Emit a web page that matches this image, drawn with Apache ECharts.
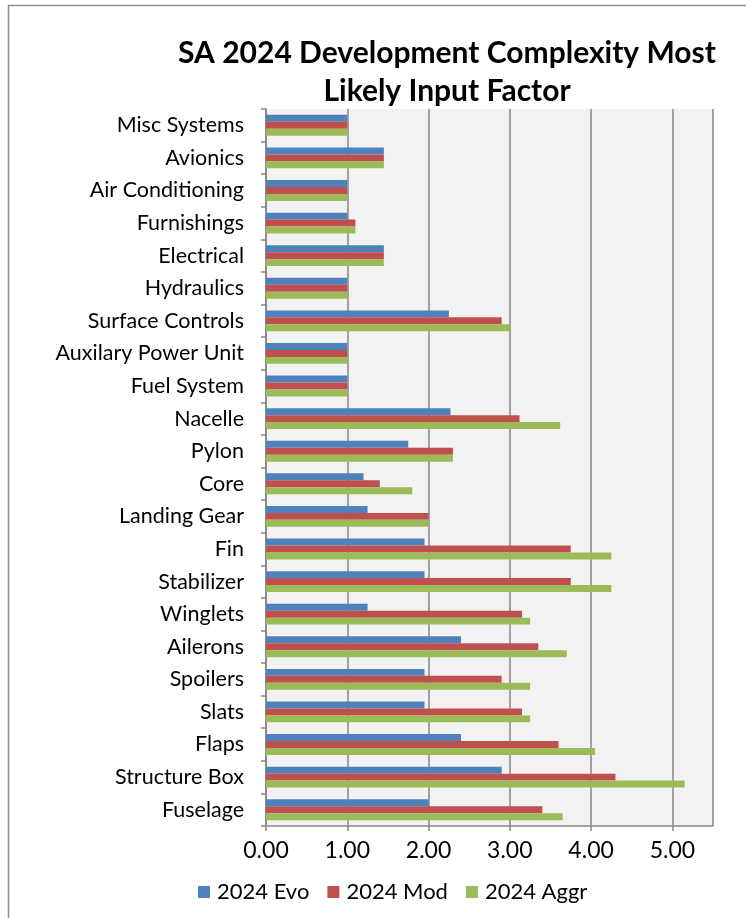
<!DOCTYPE html>
<html>
<head>
<meta charset="utf-8">
<script src="https://cdn.jsdelivr.net/npm/echarts@6/dist/echarts.min.js"></script>
<style>
  html, body { margin: 0; padding: 0; background: #fff; }
  #main { width: 746px; height: 918px; }
</style>
</head>
<body>
<div id="main"></div>
<script>
// categories top to bottom, as in the picture
var categories = ['Misc Systems', 'Avionics', 'Air Conditioning', 'Furnishings', 'Electrical',
  'Hydraulics', 'Surface Controls', 'Auxilary Power Unit', 'Fuel System', 'Nacelle', 'Pylon',
  'Core', 'Landing Gear', 'Fin', 'Stabilizer', 'Winglets', 'Ailerons', 'Spoilers', 'Slats',
  'Flaps', 'Structure Box', 'Fuselage'];

var evo  = [1.00, 1.45, 1.00, 1.00, 1.45, 1.00, 2.25, 1.00, 1.00, 2.27, 1.75,
            1.20, 1.25, 1.95, 1.95, 1.25, 2.40, 1.95, 1.95, 2.40, 2.90, 2.00];
var mod  = [1.00, 1.45, 1.00, 1.10, 1.45, 1.00, 2.90, 1.00, 1.00, 3.12, 2.30,
            1.40, 2.00, 3.75, 3.75, 3.15, 3.35, 2.90, 3.15, 3.60, 4.30, 3.40];
var aggr = [1.00, 1.45, 1.00, 1.10, 1.45, 1.00, 3.00, 1.00, 1.00, 3.62, 2.30,
            1.80, 2.00, 4.25, 4.25, 3.25, 3.70, 3.25, 3.25, 4.05, 5.15, 3.65];

var seriesNames = ['2024 Evo', '2024 Mod', '2024 Aggr'];
var colors = ['#4f81bd', '#c0504d', '#9bbb59'];
var FONT = 'Lato';

var myChart = echarts.init(document.getElementById('main'));

var series = [evo, mod, aggr].map(function (d, i) {
  return {
    name: seriesNames[i],
    type: 'bar',
    data: d,
    barGap: '0%',
    barCategoryGap: '36%',
    itemStyle: { color: colors[i] }
  };
});

myChart.setOption({
  animation: false,
  color: colors,
  title: {
    text: 'SA 2024 Development Complexity Most\nLikely Input Factor',
    left: 442,
    top: 29,
    textAlign: 'center',
    textStyle: {
      fontFamily: FONT,
      fontWeight: 'bold',
      fontSize: 30,
      lineHeight: 38,
      color: '#000'
    }
  },
  legend: {
    data: seriesNames,
    left: 193,
    top: 876,
    itemWidth: 12,
    itemHeight: 12,
    itemGap: 18,
    icon: 'rect',
    textStyle: { fontFamily: FONT, fontSize: 22, color: '#000', padding: [0, 0, 0, 2] }
  },
  grid: {
    left: 266,
    right: 33,
    top: 109,
    bottom: 92,
    containLabel: false,
    show: true,
    backgroundColor: '#f2f2f2',
    borderWidth: 0
  },
  xAxis: {
    type: 'value',
    min: 0,
    max: 5.5,
    interval: 1,
    axisLine: { show: true, lineStyle: { color: '#868686', width: 1.5 } },
    axisTick: { show: true, length: 5, lineStyle: { color: '#868686', width: 1.5 } },
    splitLine: { show: true, lineStyle: { color: '#868686', width: 1.5 } },
    axisLabel: {
      margin: 13,
      fontFamily: FONT,
      fontSize: 23,
      color: '#000',
      showMaxLabel: false,
      formatter: function (v) { return v.toFixed(2); }
    }
  },
  yAxis: {
    type: 'category',
    inverse: true,
    data: categories,
    axisLine: { show: true, lineStyle: { color: '#868686', width: 1.5 } },
    axisTick: { show: true, length: 5, lineStyle: { color: '#868686', width: 1.5 } },
    axisLabel: {
      margin: 22,
      fontFamily: FONT,
      fontSize: 21.5,
      color: '#000'
    }
  },
  graphic: [{
    type: 'rect',
    shape: { x: 8.5, y: 5.5, width: 800, height: 1000 },
    style: { fill: null, stroke: '#8c8c8c', lineWidth: 1.5 },
    silent: true
  }],
  series: series
});
</script>
</body>
</html>
